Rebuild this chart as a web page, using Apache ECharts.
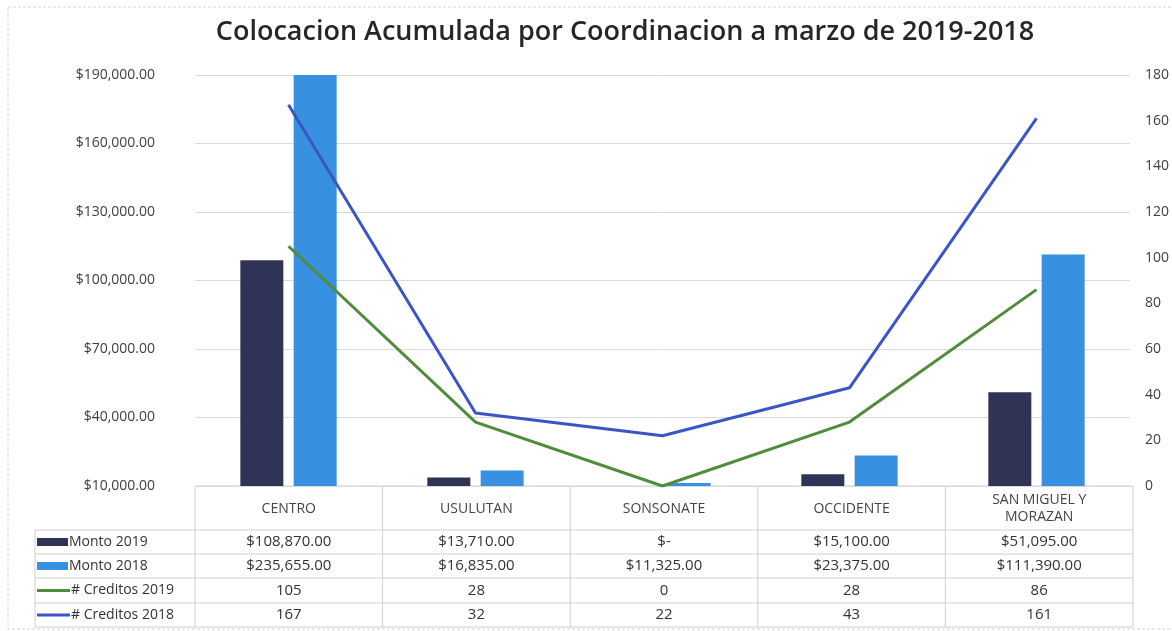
<!DOCTYPE html>
<html>
<head>
<meta charset="utf-8">
<script src="https://cdn.jsdelivr.net/npm/echarts@6/dist/echarts.min.js"></script>
<style>
  html, body { margin: 0; padding: 0; background: #fff; }
  #chart { width: 1172px; height: 631px; }
</style>
</head>
<body>
<div id="chart"></div>
<script>
const categorias = ["CENTRO", "USULUTAN", "SONSONATE", "OCCIDENTE", "SAN MIGUEL Y\nMORAZAN"];
const monto2019 = [108870, 13710, 0, 15100, 51095];
const monto2018 = [235655, 16835, 11325, 23375, 111390];
const creditos2019 = [105, 28, 0, 28, 86];
const creditos2018 = [167, 32, 22, 43, 161];
const nombres = ["Monto 2019", "Monto 2018", "# Creditos 2019", "# Creditos 2018"];
const colores = ["#2f3457", "#3790e0", "#4f8c3c", "#3b55c6"];

const fuente = "'Open Sans', 'Liberation Sans', sans-serif";

function dinero(v) {
    if (v === 0) return "$-";
    return "$" + v.toLocaleString("en-US", { minimumFractionDigits: 2, maximumFractionDigits: 2 });
}

// layout of plot + data table
const gridLeft = 195;
const gridRight = 1133;
const gridTop = 75;
const gridBottom = 486;
const tablaFilas = [530, 554, 578, 603, 627];
const tablaIzq = 35;

let chart = echarts.init(document.getElementById("chart"));

function construirTabla() {
    let els = [];
    const colW = (gridRight - gridLeft) / categorias.length;
    const borde = { stroke: "#cfcfcf", lineWidth: 1 };
    const linea = (x1, y1, x2, y2) => ({ type: "line", shape: { x1, y1, x2, y2 }, style: borde, silent: true });

    // outer frame of the chart
    els.push({ type: "rect", shape: { x: 8, y: 7, width: 1200, height: 622 },
        style: { fill: null, stroke: "#d4d4d4", lineWidth: 1, lineDash: [3, 2] }, silent: true });

    // vertical lines
    for (let i = 0; i <= categorias.length; i++) {
        let x = gridLeft + i * colW;
        els.push(linea(x, gridBottom, x, tablaFilas[4]));
    }
    els.push(linea(tablaIzq, tablaFilas[0], tablaIzq, tablaFilas[4]));
    // horizontal lines
    els.push(linea(gridLeft, gridBottom, gridRight, gridBottom));
    tablaFilas.forEach(y => els.push(linea(tablaIzq, y, gridRight, y)));

    // header
    categorias.forEach((c, i) => {
        els.push({ type: "text", silent: true, style: {
            text: c, x: gridLeft + (i + 0.5) * colW, y: (gridBottom + tablaFilas[0]) / 2 + 1,
            textAlign: "center", textVerticalAlign: "middle", fill: "#444",
            font: "14px " + fuente, lineHeight: 17 } });
    });

    const filas = [monto2019, monto2018, creditos2019, creditos2018];
    filas.forEach((fila, r) => {
        let yc = (tablaFilas[r] + tablaFilas[r + 1]) / 2;
        // legend key
        if (r < 2) {
            els.push({ type: "rect", silent: true, shape: { x: 37, y: yc - 4, width: 31, height: 8 },
                style: { fill: colores[r] } });
        } else {
            els.push({ type: "line", silent: true, shape: { x1: 37, y1: yc, x2: 70, y2: yc },
                style: { stroke: colores[r], lineWidth: 3 } });
        }
        els.push({ type: "text", silent: true, style: {
            text: nombres[r], x: r < 2 ? 69 : 71, y: yc, textAlign: "left", textVerticalAlign: "middle",
            fill: "#333", font: "14px " + fuente } });
        fila.forEach((v, i) => {
            els.push({ type: "text", silent: true, style: {
                text: r < 2 ? dinero(v) : String(v), x: gridLeft + (i + 0.5) * colW, y: yc,
                textAlign: "center", textVerticalAlign: "middle", fill: "#333", font: "15px " + fuente } });
        });
    });
    return els;
}

let options = {
    animation: false,
    backgroundColor: "#fff",
    title: {
        text: "Colocacion Acumulada por Coordinacion a marzo de 2019-2018",
        left: 620,
        top: 14,
        textAlign: "center",
        textStyle: { fontFamily: fuente, fontSize: 27, fontWeight: 600, color: "#262626" }
    },
    grid: {
        left: gridLeft,
        right: 1172 - gridRight,
        top: gridTop,
        bottom: 631 - gridBottom
    },
    xAxis: {
        type: "category",
        data: categorias,
        axisLine: { show: false },
        axisTick: { show: false },
        axisLabel: { show: false }
    },
    yAxis: [
        {
            type: "value",
            min: 10000,
            max: 190000,
            interval: 30000,
            axisLine: { show: false },
            axisTick: { show: false },
            axisLabel: { formatter: v => dinero(v), color: "#404040", fontFamily: fuente, fontSize: 14, margin: 40 },
            splitLine: { lineStyle: { color: "#dadada" } }
        },
        {
            type: "value",
            min: 0,
            max: 180,
            interval: 20,
            axisLine: { show: false },
            axisTick: { show: false },
            axisLabel: { color: "#404040", fontFamily: fuente, fontSize: 14, margin: 15 },
            splitLine: { show: false }
        }
    ],
    series: [
        {
            name: nombres[0], type: "bar", data: monto2019, yAxisIndex: 0,
            barWidth: 43, barGap: "24%", itemStyle: { color: colores[0] }
        },
        {
            name: nombres[1], type: "bar", data: monto2018, yAxisIndex: 0,
            barWidth: 43, barGap: "24%", itemStyle: { color: colores[1] }
        },
        {
            name: nombres[2], type: "line", data: creditos2019, yAxisIndex: 1,
            showSymbol: false, symbol: "none", lineStyle: { width: 3, color: colores[2] }
        },
        {
            name: nombres[3], type: "line", data: creditos2018, yAxisIndex: 1,
            showSymbol: false, symbol: "none", lineStyle: { width: 3, color: colores[3] }
        }
    ],
    graphic: { elements: construirTabla() }
};
chart.setOption(options);
</script>
</body>
</html>
